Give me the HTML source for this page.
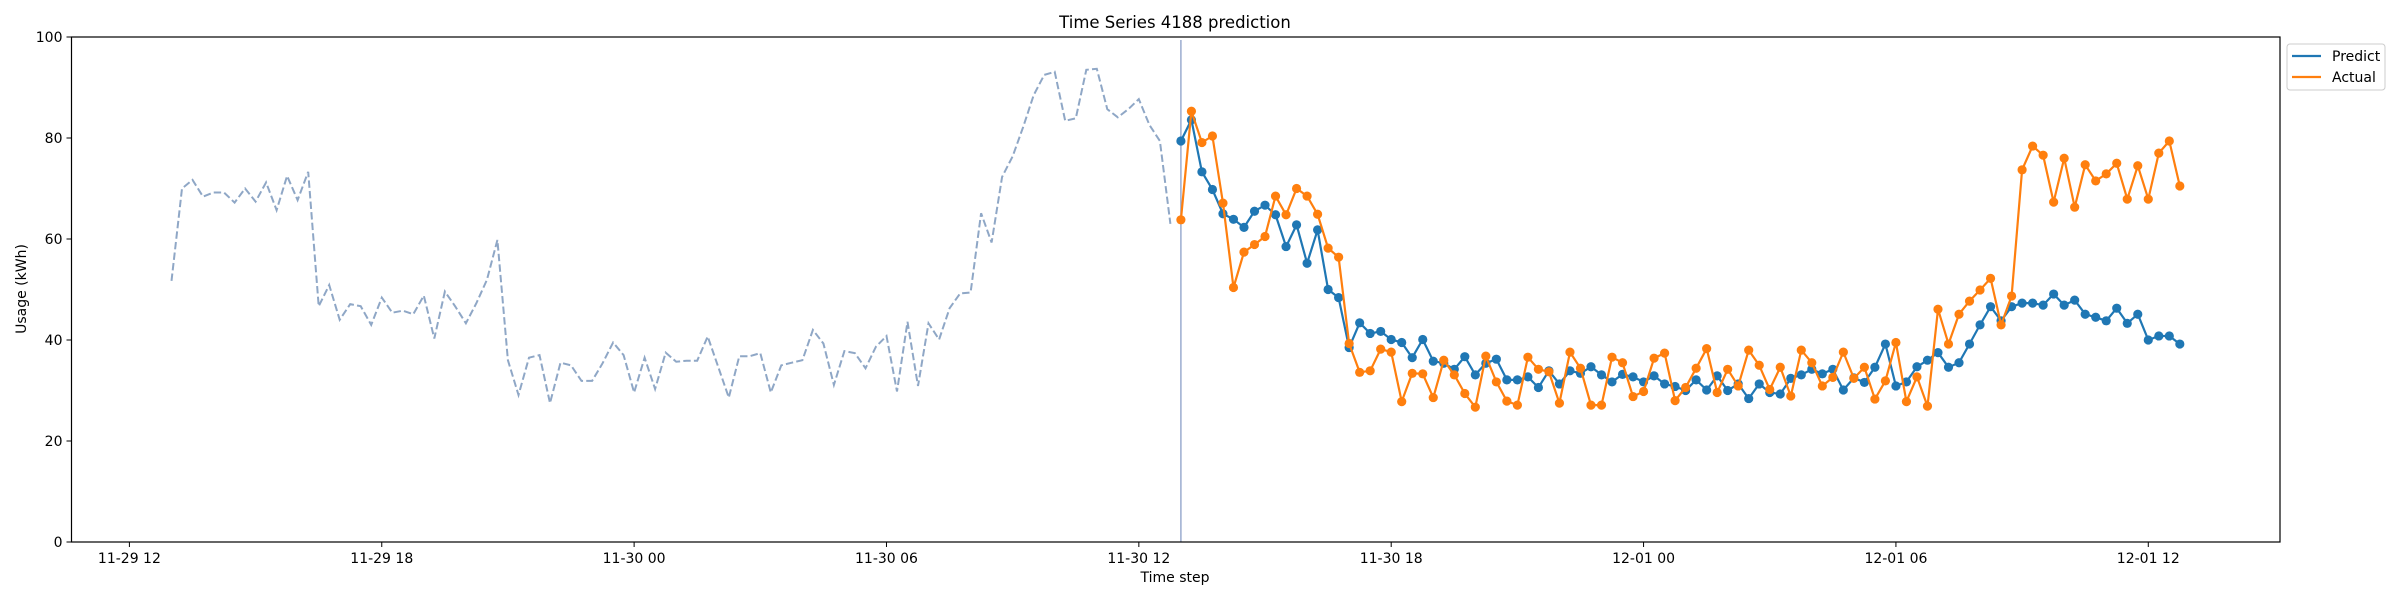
<!DOCTYPE html>
<html><head><meta charset="utf-8">
<style>
html,body{margin:0;padding:0;background:#fff;}
svg{display:block;font-family:"DejaVu Sans","Liberation Sans",sans-serif;}
</style></head>
<body>
<svg id="chart" width="2400" height="600" viewBox="0 0 2400 600" xmlns="http://www.w3.org/2000/svg">
<rect x="0" y="0" width="2400" height="600" fill="#fff"/>
<text x="1175" y="28" font-size="16.5" text-anchor="middle" fill="#000">Time Series 4188 prediction</text>
<g id="plot"></g>
<text x="1175" y="582" font-size="14" text-anchor="middle" fill="#000">Time step</text>
<text x="0" y="0" font-size="14" text-anchor="middle" fill="#000" transform="translate(26,289) rotate(-90)">Usage (kWh)</text>
<g>
<rect x="2287" y="44" width="98" height="46" rx="3" fill="#fff" stroke="#ccc" stroke-width="1"/>
<line x1="2292" y1="56" x2="2321" y2="56" stroke="#1f77b4" stroke-width="2.2"/>
<text x="2332" y="61" font-size="14" fill="#000">Predict</text>
<line x1="2292" y1="77" x2="2321" y2="77" stroke="#ff7f0e" stroke-width="2.2"/>
<text x="2332" y="82" font-size="14" fill="#000">Actual</text>
</g>
</svg>
<script>
const historyValues = [51.7,70.0,71.7,68.4,69.2,69.2,67.2,70.0,67.4,71.2,65.7,72.5,67.7,73.3,46.7,50.9,44.0,47.1,46.7,43.0,48.4,45.4,45.8,45.1,48.8,40.3,49.6,46.6,43.3,47.3,51.9,59.8,36.0,29.1,36.5,37.0,27.5,35.5,35.0,31.9,31.9,35.4,39.5,37.0,29.6,36.5,30.3,37.5,35.7,35.9,35.9,40.7,34.7,28.6,36.8,36.8,37.4,29.6,35.0,35.5,36.0,42.0,39.3,31.1,37.8,37.4,34.4,38.7,40.8,29.8,43.6,30.9,43.3,40.1,46.3,49.2,49.4,65.1,59.3,72.3,76.4,82.2,88.5,92.5,93.1,83.4,83.9,93.5,93.7,85.7,84.1,85.7,87.7,82.6,79.4,63.0];
const predictValues = [79.4,83.6,73.3,69.8,65.0,63.9,62.3,65.5,66.7,64.8,58.5,62.8,55.2,61.8,50.0,48.4,38.5,43.4,41.3,41.7,40.1,39.5,36.5,40.1,35.8,35.4,34.2,36.7,33.1,35.4,36.2,32.1,32.1,32.7,30.6,33.9,31.3,33.9,33.4,34.7,33.1,31.7,33.2,32.7,31.7,32.9,31.3,30.8,30.0,32.1,30.1,32.9,30.0,31.3,28.4,31.3,29.6,29.3,32.4,33.1,34.2,33.3,34.2,30.1,32.5,31.6,34.6,39.2,30.9,31.7,34.7,36.0,37.5,34.6,35.5,39.2,43.0,46.6,43.8,46.6,47.3,47.3,46.9,49.1,46.9,47.9,45.1,44.5,43.8,46.3,43.3,45.1,40.0,40.8,40.8,39.2];
const actualValues = [63.8,85.3,79.1,80.4,67.1,50.4,57.4,58.9,60.5,68.5,64.8,70.0,68.5,64.9,58.2,56.4,39.3,33.6,33.9,38.2,37.6,27.8,33.4,33.3,28.6,36.0,33.1,29.4,26.7,36.8,31.7,27.9,27.1,36.6,34.2,33.7,27.5,37.6,34.4,27.1,27.1,36.6,35.5,28.8,29.8,36.4,37.4,28.0,30.6,34.4,38.3,29.6,34.2,30.9,38.0,35.0,30.2,34.6,28.9,38.0,35.5,30.9,32.6,37.6,32.4,34.6,28.3,31.9,39.5,27.8,32.7,26.9,46.1,39.2,45.1,47.7,49.9,52.2,43.0,48.7,73.7,78.4,76.6,67.3,76.0,66.3,74.7,71.5,72.9,75.0,67.9,74.5,67.9,77.0,79.4,70.5];
const yTicks = [0,20,40,60,80,100];
const xTickHours = [0,6,12,18,24,30,36,42,48];
const xTickLabels = ["11-29 12","11-29 18","11-30 00","11-30 06","11-30 12","11-30 18","12-01 00","12-01 06","12-01 12"];
const historyStartHour = 1;
const forecastStartHour = 25;
const stepHours = 0.25;

const NS="http://www.w3.org/2000/svg";
const L=71.5,R=2280,T=37,B=542;
const xs=h=>129.4+h*42.06;
const ys=v=>B-(v/100)*(B-T);
const g=document.getElementById('plot');
function mk(tag,attrs,parent){const e=document.createElementNS(NS,tag);for(const k in attrs)e.setAttribute(k,attrs[k]);(parent||g).appendChild(e);return e;}

// y ticks
yTicks.forEach(v=>{
  const t=mk('line',{x1:L-5,x2:L,y1:ys(v),y2:ys(v),stroke:'#000','stroke-width':1});
  
  
  const tx=mk('text',{x:L-9,y:ys(v)+5,'font-size':14,'text-anchor':'end',fill:'#000'});
  tx.textContent=v;
  
  
});
xTickHours.forEach((h,i)=>{
  const t=mk('line',{x1:xs(h),x2:xs(h),y1:B,y2:B+5,stroke:'#000','stroke-width':1});
  
  
  const tx=mk('text',{x:xs(h),y:B+21,'font-size':14,'text-anchor':'middle',fill:'#000'});
  tx.textContent=xTickLabels[i];
  
  
});

// history dashed line
const hp=historyValues.map((v,i)=>xs(historyStartHour+i*stepHours).toFixed(1)+','+ys(v).toFixed(1)).join(' ');
const hl=mk('polyline',{points:hp,fill:'none',stroke:'#8fa7c6','stroke-width':2,'stroke-dasharray':'7.4 3.2'});



// vertical split line
const vx=xs(forecastStartHour);
const vl=mk('line',{x1:vx,x2:vx,y1:T+3,y2:B,stroke:'#9aaccf','stroke-width':1.5});



function series(vals,color,name){
  const pts=vals.map((v,i)=>xs(forecastStartHour+i*stepHours).toFixed(1)+','+ys(v).toFixed(1)).join(' ');
  const pl=mk('polyline',{points:pts,fill:'none',stroke:color,'stroke-width':2.2});
  
  
  vals.forEach((v,i)=>{
    const c=mk('circle',{cx:xs(forecastStartHour+i*stepHours),cy:ys(v),r:4.6,fill:color});
    
    
  });
}
series(predictValues,'#1f77b4','predict');
series(actualValues,'#ff7f0e','actual');

// axes frame
const fr=mk('rect',{x:L,y:T,width:R-L,height:B-T,fill:'none',stroke:'#000','stroke-width':1.2});


</script>
</body></html>
